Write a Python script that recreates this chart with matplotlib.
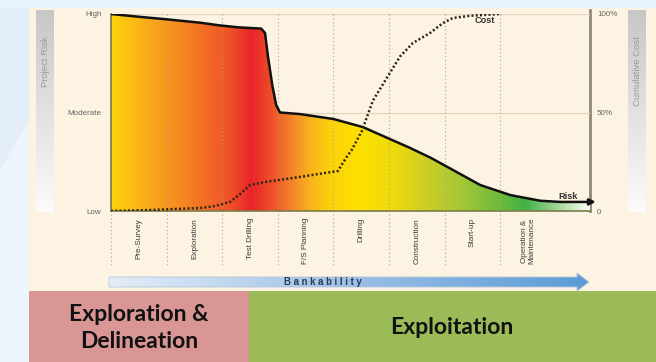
import numpy as np
import matplotlib
matplotlib.use("Agg")
import matplotlib.pyplot as plt
from matplotlib.colors import LinearSegmentedColormap
from matplotlib.patches import Rectangle, Polygon

# ---- data -------------------------------------------------------------
stages = ["Pre-Survey", "Exploration", "Test Drilling", "F/S Planning",
          "Drilling", "Construction", "Start-up", "Operation &\nMaintenance"]
risk_levels = ["Low", "Moderate", "High"]
cost_ticks = ["0", "50%", "100%"]
phases = ["Exploration &\nDelineation", "Exploitation"]

# project risk (0 = low, 100 = high) along the stage axis
risk_x = [0.0, 0.5, 1.0, 1.6, 1.96, 2.3, 2.7, 2.77, 2.82, 2.9, 2.97, 3.04,
          3.4, 4.0, 4.53, 4.93, 5.38, 5.75, 6.1, 6.64, 7.18, 7.72, 8.08]
risk_y = [100, 98.6, 97.3, 95.6, 94.2, 93.2, 92.6, 90.4, 79, 64, 53.8, 50,
          49.2, 46.7, 42.6, 37.6, 32, 27, 21.6, 13.2, 8.1, 5.2, 4.6]

# cumulative cost in percent
cost_x = [0.0, 0.7, 1.6, 1.87, 2.14, 2.32, 2.5, 2.77, 3.4, 4.08, 4.24, 4.33,
          4.51, 4.71, 4.97, 5.2, 5.43, 5.74, 5.97, 6.15, 6.46, 7.0]
cost_y = [0, 0.5, 1.5, 2.5, 4.6, 8.5, 13.2, 14.7, 17.3, 20.3, 27.5, 31,
          40.5, 56, 68, 78.5, 85.3, 90.4, 95.4, 98, 99.1, 100]

# ---- layout (pixels) --------------------------------------------------
W, H = 656, 362
X0, X1, YT, YB = 111, 590, 14, 211
STAGE_W = 55.6
xmax = (X1 - X0) / STAGE_W

fig = plt.figure(figsize=(W / 100, H / 100), dpi=100)
fig.patch.set_facecolor("#e3eef9")

bg = fig.add_axes([0, 0, 1, 1])
bg.set_xlim(0, W)
bg.set_ylim(H, 0)
bg.axis("off")

# soft light streaks on the blue background
bg.add_patch(Polygon([(0, 170), (29, 120), (29, 362), (0, 362)],
                     color="#edf4fc", lw=0))
bg.add_patch(Rectangle((0, 0), W, 8, color="#e6f2fc", lw=0))

cream = "#fcf3e2"
bg.add_patch(Rectangle((29, 8), W - 29, 283, color=cream, lw=0))

# side title bars with a grey-to-white fade
fade = LinearSegmentedColormap.from_list("fade", ["#c7c7c7", "#fbfbfb"])
for x0, title in [(36, "Project Risk"), (628, "Cumulative Cost")]:
    bg.imshow(np.linspace(0, 1, 200)[:, None], cmap=fade, aspect="auto",
              extent=(x0, x0 + 18, 212, 10), zorder=1)
    bg.text(x0 + 9, 36, title, rotation=90, ha="center", va="top",
            fontsize=6.8, color="#9a9a9a", family="Liberation Sans", zorder=2)

# right axis bar
bg.plot([X1, X1], [10, YB], color="#8f8877", lw=2, zorder=5)

# Bankability arrow
bank_cmap = LinearSegmentedColormap.from_list("bank", ["#e4edf8", "#9cc0e6", "#5b9bd6"])
bank_shape = Polygon([(109, 277), (577, 277), (577, 273), (589, 282), (577, 291),
                      (577, 287), (109, 287)], closed=True, facecolor="none",
                     edgecolor="#b5c8dc", lw=0.6, zorder=3)
bg.add_patch(bank_shape)
bi = bg.imshow(np.linspace(0, 1, 256)[None, :], cmap=bank_cmap, aspect="auto",
               extent=(109, 589, 291, 273), zorder=2)
bi.set_clip_path(bank_shape)
bg.text(323, 282.3, " ".join("Bankability"), ha="center", va="center",
        fontsize=6.9, fontweight="bold", color="#2d3b52",
        family="Liberation Sans", zorder=4)

# phase boxes
bg.add_patch(Rectangle((29, 291), 249 - 29, H - 291, color="#d99694", lw=0))
bg.add_patch(Rectangle((249, 291), W - 249, H - 291, color="#9bbb59", lw=0))
bg.text(139, 328, phases[0], ha="center", va="center", fontsize=16.5,
        fontweight="bold", family="Lato", linespacing=1.3, color="#111111")
bg.text(452, 328, phases[1], ha="center", va="center", fontsize=16.5,
        fontweight="bold", family="Lato", color="#111111")
bg.set_xlim(0, W)
bg.set_ylim(H, 0)

# ---- chart ------------------------------------------------------------
ax = fig.add_axes([X0 / W, (H - YB) / H, (X1 - X0) / W, (YB - YT) / H])
ax.set_facecolor("none")

# colour ramp under the risk curve
ramp_px = [111, 150, 190, 230, 250, 262, 290, 310, 330, 360, 390, 420,
           460, 500, 527, 560, 590]
ramp_col = ["#fdd20a", "#f9a81c", "#f47e22", "#ef5028", "#e8252b", "#ec3a28",
            "#f3802a", "#f8b41c", "#fdd10a", "#fde000", "#f0dc0a", "#d4d020",
            "#a8c836", "#70ba3c", "#40b248", "#a8d89a", "#fbfcf6"]
ramp = LinearSegmentedColormap.from_list(
    "ramp", [((p - X0) / (X1 - X0), c) for p, c in zip(ramp_px, ramp_col)])

area = Polygon(list(zip(risk_x, risk_y)) + [(xmax, risk_y[-1]), (xmax, 0), (0, 0)],
               closed=True, facecolor="none", edgecolor="none")
ax.add_patch(area)
img = ax.imshow(np.linspace(0, 1, 600)[None, :], cmap=ramp, aspect="auto",
                extent=(0, xmax, 0, 100), zorder=1)
img.set_clip_path(area)

# grid: stage dividers and level lines
for i in range(len(stages)):
    ax.plot([i, i], [100, -28.4], color="#a9a393", lw=0.8,
            linestyle=(0, (1.2, 2.2)), clip_on=False, zorder=2, alpha=0.8)
for lvl in (50, 100):
    ax.axhline(lvl, color="#e3d5bb", lw=0.9, zorder=0.5)

# risk curve with arrow
ax.plot(risk_x, risk_y, color="#111111", lw=1.8, zorder=4,
        solid_capstyle="round", solid_joinstyle="round")
ax.annotate("", xy=(8.72, risk_y[-1]), xytext=(risk_x[-1], risk_y[-1]),
            arrowprops=dict(arrowstyle="-|>", color="#111111", lw=1.8,
                            mutation_scale=9, shrinkA=0, shrinkB=0),
            annotation_clip=False, zorder=4)
ax.text(8.22, 7.3, "Risk", ha="center", va="center", fontsize=6.6,
        fontweight="bold", color="#333333", family="Liberation Sans", zorder=5)

ax.set_xlim(0, xmax)
ax.set_ylim(0, 100)
ax.set_yticks([0, 50, 100], risk_levels)
ax.tick_params(axis="y", length=0, pad=7, labelsize=5.8, labelcolor="#666666")
ax.set_xticks(np.arange(len(stages)) + 0.5, stages, rotation=90)
ax.tick_params(axis="x", length=0, pad=5, labelsize=5.9, labelcolor="#3d3d3d")
for lab in ax.get_xticklabels() + ax.get_yticklabels():
    lab.set_family("Liberation Sans")
for s in ("top", "right"):
    ax.spines[s].set_visible(False)
for s in ("left", "bottom"):
    ax.spines[s].set_color("#7d7b4a")
    ax.spines[s].set_linewidth(1.2)

# cumulative cost on the right axis
ax2 = ax.twinx()
ax2.set_ylim(0, 100)
ax2.plot(cost_x, cost_y, color="#2e2416", lw=1.8, linestyle=(0, (0.8, 0.9)),
         zorder=3)
ax2.text(6.73, 96.5, "Cost", ha="center", va="center", fontsize=6.6,
         fontweight="bold", color="#333333", family="Liberation Sans")
ax2.set_yticks([0, 50, 100], cost_ticks)
ax2.tick_params(axis="y", length=0, pad=5, labelsize=5.8, labelcolor="#666666")
for lab in ax2.get_yticklabels():
    lab.set_family("Liberation Sans")
for s in ax2.spines.values():
    s.set_visible(False)

fig.savefig("out.png", dpi=100, facecolor=fig.get_facecolor())
